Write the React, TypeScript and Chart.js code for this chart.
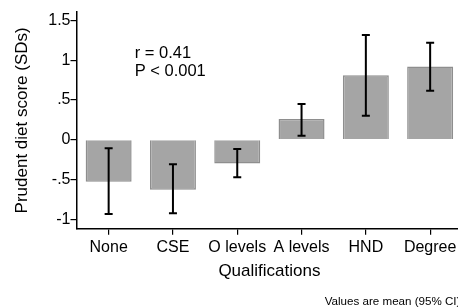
import React, { useEffect, useRef } from "react";
import { Chart, registerables } from "chart.js";

Chart.register(...registerables);

const categories = ["None", "CSE", "O levels", "A levels", "HND", "Degree"];
const means = [-0.53, -0.63, -0.3, 0.26, 0.81, 0.92];
const ciLow = [-0.935, -0.925, -0.473, 0.05, 0.3, 0.615];
const ciHigh = [-0.108, -0.31, -0.117, 0.45, 1.317, 1.22];
const yTicks = [-1, -0.5, 0, 0.5, 1, 1.5];
const annotationLines = ["r = 0.41", "P < 0.001"];
const footnote = "Values are mean (95% CI)";

const FONT = "'Liberation Sans', Arial, Helvetica, sans-serif";

const fmt = (v: number) => {
  if (v === 0) return "0";
  let s = String(v);
  s = s.replace(/^(-?)0\./, "$1.");
  return s;
};

const errorBarPlugin = {
  id: "errorBars",
  afterDatasetsDraw(chart: any) {
    const ctx = chart.ctx;
    const x = chart.scales.x;
    const y = chart.scales.y;
    ctx.save();
    ctx.strokeStyle = "#000";
    ctx.lineWidth = 2;
    categories.forEach((_, i) => {
      const px = x.getPixelForValue(i);
      const yl = y.getPixelForValue(ciLow[i]);
      const yh = y.getPixelForValue(ciHigh[i]);
      ctx.beginPath();
      ctx.moveTo(px, yl);
      ctx.lineTo(px, yh);
      ctx.moveTo(px - 4, yl);
      ctx.lineTo(px + 4, yl);
      ctx.moveTo(px - 4, yh);
      ctx.lineTo(px + 4, yh);
      ctx.stroke();
    });
    ctx.restore();
  },
};

const textPlugin = {
  id: "texts",
  afterDraw(chart: any) {
    const ctx = chart.ctx;
    const x = chart.scales.x;
    const y = chart.scales.y;
    ctx.save();
    ctx.fillStyle = "#000";
    ctx.font = `16.5px ${FONT}`;
    ctx.textAlign = "left";
    ctx.textBaseline = "alphabetic";
    const ax = x.getPixelForValue(0) + 26;
    const ay = y.getPixelForValue(1.03);
    annotationLines.forEach((t, i) => ctx.fillText(t, ax, ay + i * 18.3));
    ctx.font = `11.6px ${FONT}`;
    ctx.textAlign = "left";
    ctx.fillText(footnote, 324.7, chart.height - 2);
    ctx.restore();
  },
};

export default function App() {
  const ref = useRef<HTMLCanvasElement>(null);
  useEffect(() => {
    if (!ref.current) return;
    const chart = new Chart(ref.current, {
      type: "bar",
      data: {
        labels: categories,
        datasets: [
          {
            data: means,
            backgroundColor: "#a5a5a5",
            borderColor: "#8e8e8e",
            borderWidth: 1.5,
            barPercentage: 0.715,
            categoryPercentage: 1,
          },
        ],
      },
      options: {
        animation: false,
        responsive: false,
        maintainAspectRatio: false,
        layout: { padding: { left: 0, top: 12, right: 3.7, bottom: 25 } },
        plugins: {
          legend: { display: false },
          tooltip: { enabled: false },
        },
        scales: {
          x: {
            type: "category",
            offset: true,
            grid: {
              display: true,
              offset: false,
              drawOnChartArea: false,
              drawTicks: true,
              tickLength: 6,
              color: "#000",
              lineWidth: 1.2,
            },
            border: { display: true, color: "#000", width: 1.5 },
            ticks: {
              color: "#000",
              font: { family: FONT, size: 16 },
              padding: 3,
              maxRotation: 0,
              autoSkip: false,
            },
            title: {
              display: true,
              text: "Qualifications",
              color: "#000",
              font: { family: FONT, size: 17 },
              padding: { top: 2, bottom: 0 },
            },
            afterFit: (s: any) => {
              s.height = 53.3;
            },
          },
          y: {
            min: -1.12,
            max: 1.606,
            afterBuildTicks: (s: any) => {
              s.ticks = yTicks.map((v) => ({ value: v }));
            },
            grid: {
              display: true,
              drawOnChartArea: false,
              drawTicks: true,
              tickLength: 6,
              color: "#000",
              lineWidth: 1.2,
            },
            border: { display: true, color: "#000", width: 1.5 },
            ticks: {
              color: "#000",
              font: { family: FONT, size: 16 },
              padding: 0,
              callback: (v: any) => fmt(Number(v)),
            },
            title: {
              display: true,
              text: "Prudent diet score (SDs)",
              color: "#000",
              font: { family: FONT, size: 17 },
              padding: { top: 12, bottom: 0 },
            },
            afterFit: (s: any) => {
              s.width = 76.5;
            },
          },
        },
      },
      plugins: [errorBarPlugin, textPlugin],
    });
    return () => chart.destroy();
  }, []);
  return (
    <div
      style={{
        position: "fixed",
        left: 0,
        top: 0,
        width: 458,
        height: 307,
        overflow: "hidden",
        background: "#fff",
      }}
    >
      <canvas ref={ref} width={466} height={307} style={{ width: 466, height: 307, display: "block" }} />
    </div>
  );
}
